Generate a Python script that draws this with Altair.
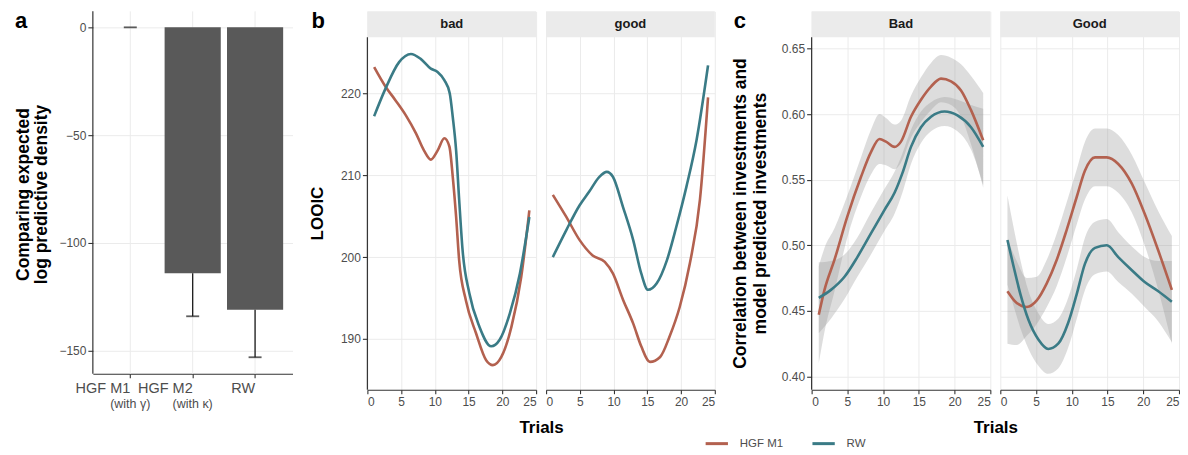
import altair as alt
import pandas as pd

FONT = "Liberation Sans"
BROWN = "#B3614F"
TEAL = "#3A7B86"
GRID = "#EBEBEB"
AXC = "#333333"

# ---------------- panel a data ----------------
a_models = ["HGF M1", "HGF M2", "RW"]
a_sub = ["(with \u03b3)", "(with \u03ba)", ""]
a_elpd = [0, -114, -131]
a_low = [0, -134, -153]

# ---------------- panel b data (LOOIC) ----------------
b_bad_hgf_t = [1, 2.7, 4.2, 5.7, 7.2, 8.4, 9.4, 10.4, 11.4, 12.15, 12.65, 13.15, 13.6, 14.6, 16.1, 17.6, 18.6, 19.85, 21.35, 22.8, 24]
b_bad_hgf_v = [223.2, 220.8, 219.1, 217.3, 215.1, 213.0, 211.9, 213.0, 214.5, 213.5, 209.8, 204.9, 199.6, 194.7, 190.7, 187.4, 186.8, 187.8, 191.5, 197.6, 205.7]
b_bad_rw_t = [1, 2.7, 4.7, 6.45, 7.9, 9.4, 10.4, 11.4, 12.2, 12.65, 13.15, 13.6, 14.1, 15.1, 16.6, 18.35, 19.6, 21.1, 22.6, 24]
b_bad_rw_v = [217.2, 220.6, 223.8, 224.8, 224.2, 223.0, 222.6, 221.6, 220.0, 217.1, 213.0, 207.0, 200.9, 195.6, 191.5, 189.1, 189.9, 193.1, 198.0, 204.9]
b_good_hgf_t = [1, 3, 4.95, 6.9, 8.7, 9.9, 11.4, 12.9, 14.1, 15.4, 16.9, 18.3, 19.8, 21.3, 22.8, 24]
b_good_hgf_v = [207.6, 204.9, 202.1, 200.2, 199.4, 198.0, 194.8, 191.9, 189.1, 187.2, 187.8, 190.3, 193.9, 199.2, 207.0, 219.5]
b_good_rw_t = [1, 3, 4.95, 6.4, 7.9, 9.0, 9.9, 11.4, 12.9, 14.1, 15.1, 16.4, 17.9, 19.3, 20.8, 22.3, 24]
b_good_rw_v = [200.0, 203.3, 206.3, 208.0, 209.8, 210.4, 209.8, 206.1, 202.1, 198.0, 196.0, 196.8, 199.6, 203.7, 208.6, 214.3, 223.4]

# ---------------- panel c data (correlation, with band half-width) ----------------
c_bad_hgf_t = [1, 1.8, 3.2, 5.0, 6.9, 8.3, 9.5, 10.4, 11.6, 12.5, 13.9, 15.3, 16.7, 18.1, 19.5, 20.9, 22.3, 24]
c_bad_hgf_v = [0.447, 0.466, 0.489, 0.522, 0.552, 0.571, 0.581, 0.579, 0.575, 0.579, 0.598, 0.611, 0.621, 0.627, 0.625, 0.618, 0.603, 0.580]
c_bad_hgf_se = [0.037, 0.032, 0.024, 0.016, 0.015, 0.017, 0.019, 0.018, 0.017, 0.016, 0.016, 0.017, 0.018, 0.018, 0.018, 0.020, 0.026, 0.036]
c_bad_rw_t = [1, 2.7, 4.6, 6.4, 8.3, 10.2, 11.6, 12.7, 13.9, 15.3, 16.7, 18.6, 20.4, 22.3, 24]
c_bad_rw_v = [0.460, 0.466, 0.476, 0.491, 0.509, 0.527, 0.540, 0.555, 0.575, 0.590, 0.598, 0.602, 0.599, 0.590, 0.575]
c_bad_rw_se = [0.027, 0.022, 0.017, 0.015, 0.016, 0.016, 0.016, 0.015, 0.013, 0.012, 0.011, 0.011, 0.012, 0.017, 0.029]
c_good_hgf_t = [1, 2.3, 3.7, 5.1, 6.5, 7.9, 9.3, 10.7, 11.85, 13.25, 14.9, 16.5, 18.4, 20.2, 22.1, 24]
c_good_hgf_v = [0.465, 0.456, 0.453, 0.458, 0.471, 0.489, 0.512, 0.537, 0.557, 0.567, 0.567, 0.562, 0.547, 0.524, 0.496, 0.466]
c_good_hgf_se = [0.040, 0.032, 0.022, 0.018, 0.018, 0.020, 0.021, 0.021, 0.022, 0.022, 0.022, 0.022, 0.022, 0.024, 0.030, 0.041]
c_good_rw_t = [1, 1.85, 2.8, 3.95, 5.35, 6.7, 8.1, 9.5, 10.7, 11.85, 13.25, 14.9, 16.5, 18.4, 20.2, 22.1, 24]
c_good_rw_v = [0.504, 0.484, 0.463, 0.443, 0.428, 0.421, 0.425, 0.441, 0.463, 0.486, 0.498, 0.500, 0.491, 0.481, 0.472, 0.465, 0.457]
c_good_rw_se = [0.034, 0.030, 0.026, 0.022, 0.020, 0.019, 0.019, 0.019, 0.019, 0.020, 0.020, 0.020, 0.019, 0.018, 0.019, 0.023, 0.031]

models = ["HGF M1", "RW"]
trial_ticks = [0, 5, 10, 15, 20, 25]

H = 379      # plot height of every panel (strip included for b/c)
STRIP = 26


def long_df(pairs):
    rows = []
    for model, ts, vs, ses in pairs:
        for i, (t, v) in enumerate(zip(ts, vs)):
            r = {"model": model, "trial": t, "value": v}
            if ses is not None:
                r["lo"] = v - ses[i]
                r["hi"] = v + ses[i]
            rows.append(r)
    return pd.DataFrame(rows)


def color_enc(legend=None):
    return alt.Color("model:N", scale=alt.Scale(domain=models, range=[BROWN, TEAL]),
                     legend=legend)


def strip_layers(label, w):
    d = pd.DataFrame({"label": [label]})
    base = alt.Chart(d)
    rect = base.mark_rect(color=GRID).encode(
        x=alt.value(0), x2=alt.value(w), y=alt.value(0), y2=alt.value(STRIP))
    txt = base.mark_text(font=FONT, fontSize=13, fontWeight="bold", color="#1A1A1A",
                         baseline="middle").encode(
        x=alt.value(w / 2), y=alt.value(STRIP / 2), text="label:N")
    return [rect, txt]


def yline(top, bottom=H):
    d = pd.DataFrame({"k": [0]})
    return alt.Chart(d).mark_rule(color=AXC, strokeWidth=1.2).encode(
        x=alt.value(0), y=alt.value(top), y2=alt.value(bottom))


def panel_label(letter, dx):
    d = pd.DataFrame({"t": [letter]})
    return alt.Chart(d).mark_text(font=FONT, fontSize=22, fontWeight="bold", color="#000",
                                  align="left", baseline="alphabetic").encode(
        x=alt.value(dx), y=alt.value(16.5), text="t:N")


# ---------------- panel a ----------------
dfa = pd.DataFrame({"model": a_models, "sub": a_sub, "elpd": a_elpd, "low": a_low})
xa = alt.X("model:N", sort=a_models,
           scale=alt.Scale(paddingInner=0.1, paddingOuter=0.15),
           axis=alt.Axis(title=None, labelAngle=0, offset=-16, grid=False, labelFontSize=14.5,
                         labelPadding=11, labelColor="#4D4D4D"))
ya = alt.Y("elpd:Q", scale=alt.Scale(domain=[-168.06, 7.41], nice=False, zero=False),
           axis=alt.Axis(values=[0, -50, -100, -150], grid=True, domain=False,
                         title=["Comparing expected", "log predictive density"],
                         titleX=-69, titleY=183, titleBaseline="middle",
                         titleLineHeight=18, titleFontSize=17.5))
base_a = alt.Chart(dfa)
vgrid_a = base_a.mark_rule(color=GRID, strokeWidth=1).encode(
    x=alt.X("model:N", sort=a_models), y=alt.value(0), y2=alt.value(H - 16))
bars = base_a.mark_bar(color="#595959").encode(x=xa, y=ya)
err = base_a.mark_rule(color="#1A1A1A", strokeWidth=1.3).encode(
    x=alt.X("model:N", sort=a_models), y="elpd:Q", y2="low:Q")
whisk = base_a.mark_tick(color="#1A1A1A", size=13, thickness=1.8).encode(
    x=alt.X("model:N", sort=a_models), y="low:Q")
subl = base_a.mark_text(font=FONT, fontSize=12.5, color="#4D4D4D", baseline="middle").encode(
    x=alt.X("model:N", sort=a_models), y=alt.value(393), text="sub:N")
anchor = alt.Chart(pd.DataFrame({"k": [0]})).mark_rect(opacity=0).encode(
    x=alt.value(-85), x2=alt.value(-84), y=alt.value(-3), y2=alt.value(-2))
chart_a = alt.layer(vgrid_a, bars, err, whisk, subl, yline(0, H - 16),
                    panel_label("a", -78), anchor).properties(width=200, height=H)


def x_enc(first, tx):
    extra = {"titleX": tx, "titleY": 37.5, "titleBaseline": "middle",
             "titleAlign": "center"} if first else {}
    return alt.X("trial:Q", scale=alt.Scale(domain=[0, 25], nice=False),
                 axis=alt.Axis(values=trial_ticks, grid=True, labelOverlap=False,
                               title="Trials" if first else None, **extra))


# ---------------- panel b ----------------
def b_panel(df, label, first, w):
    x = x_enc(first, 174)
    if first:
        yax = alt.Axis(values=[190, 200, 210, 220], grid=True, domain=False, title="LOOIC",
                       titleX=-49.5, titleY=202, titleBaseline="middle")
    else:
        yax = alt.Axis(values=[190, 200, 210, 220], grid=True, domain=False, labels=False,
                       ticks=False, title=None)
    y = alt.Y("value:Q", scale=alt.Scale(domain=[183.8, 230.0], nice=False, zero=False), axis=yax)
    lines = alt.Chart(df).mark_line(strokeWidth=2.6, interpolate="monotone").encode(
        x=x, y=y, color=color_enc(), detail="model:N")
    layers = [lines] + strip_layers(label, w)
    if first:
        layers += [yline(STRIP), panel_label("b", -56)]
    return alt.layer(*layers).properties(width=w, height=H)


df_b_bad = long_df([("HGF M1", b_bad_hgf_t, b_bad_hgf_v, None), ("RW", b_bad_rw_t, b_bad_rw_v, None)])
df_b_good = long_df([("HGF M1", b_good_hgf_t, b_good_hgf_v, None), ("RW", b_good_rw_t, b_good_rw_v, None)])
chart_b1 = b_panel(df_b_bad, "bad", True, 169)
chart_b2 = b_panel(df_b_good, "good", False, 169)


# ---------------- panel c ----------------
def c_panel(df, label, first, w):
    x = x_enc(first, 184)
    yvals = [0.40, 0.45, 0.50, 0.55, 0.60, 0.65]
    if first:
        yax = alt.Axis(values=yvals, format=".2f", grid=True, domain=False,
                       title=["Correlation between investments and", "model predicted investments"],
                       titleX=-71, titleY=202, titleBaseline="middle", titleLineHeight=20,
                       titleFontSize=17.5)
    else:
        yax = alt.Axis(values=yvals, format=".2f", grid=True, domain=False, labels=False,
                       ticks=False, title=None)
    yscale = alt.Scale(domain=[0.3899, 0.6783], nice=False, zero=False)
    band = alt.Chart(df).mark_area(color="#999999", opacity=0.33, interpolate="monotone").encode(
        x=x, y=alt.Y("lo:Q", scale=yscale, axis=yax), y2="hi:Q", detail="model:N")
    leg = None
    if first:
        leg = alt.Legend(orient="none", legendX=-108, legendY=420, direction="horizontal",
                         title=None, symbolType="stroke", symbolStrokeWidth=3, symbolSize=500,
                         labelFontSize=11.5, labelColor="#4D4D4D", labelFont=FONT,
                         columnPadding=22, labelOffset=10, padding=0)
    lines = alt.Chart(df).mark_line(strokeWidth=2.6, interpolate="monotone").encode(
        x=x, y=alt.Y("value:Q", scale=yscale, axis=yax), color=color_enc(leg), detail="model:N")
    layers = [band, lines] + strip_layers(label, w)
    if first:
        layers += [yline(STRIP), panel_label("c", -78)]
    return alt.layer(*layers).properties(width=w, height=H)


df_c_bad = long_df([("HGF M1", c_bad_hgf_t, c_bad_hgf_v, c_bad_hgf_se),
                    ("RW", c_bad_rw_t, c_bad_rw_v, c_bad_rw_se)])
df_c_good = long_df([("HGF M1", c_good_hgf_t, c_good_hgf_v, c_good_hgf_se),
                     ("RW", c_good_rw_t, c_good_rw_v, c_good_rw_se)])
chart_c1 = c_panel(df_c_bad, "Bad", True, 179)
chart_c2 = c_panel(df_c_good, "Good", False, 179)


def spacer(w):
    return alt.Chart(pd.DataFrame({"k": [0]})).mark_rect(opacity=0).encode(
        x=alt.value(0), x2=alt.value(1), y=alt.value(0), y2=alt.value(1)
    ).properties(width=w, height=H)


chart = alt.hconcat(chart_a, spacer(55), chart_b1, chart_b2, spacer(77), chart_c1, chart_c2,
                    spacing=10, bounds="flush").resolve_scale(
    color="independent", x="independent", y="independent"
).properties(padding=0).configure_view(stroke=None).configure_axis(
    labelFont=FONT, titleFont=FONT, labelFontSize=12, labelColor="#4D4D4D",
    titleFontSize=17, titleFontWeight="bold", titleColor="#000000",
    tickColor=AXC, tickSize=5, tickWidth=1.1, labelPadding=2,
    domainColor=AXC, domainWidth=1.2, gridColor=GRID, gridWidth=1
).configure_axisBottom(labelPadding=3, tickSize=4).configure_text(font=FONT)

chart.save("out.html", embed_options={"renderer": "svg", "actions": False})
